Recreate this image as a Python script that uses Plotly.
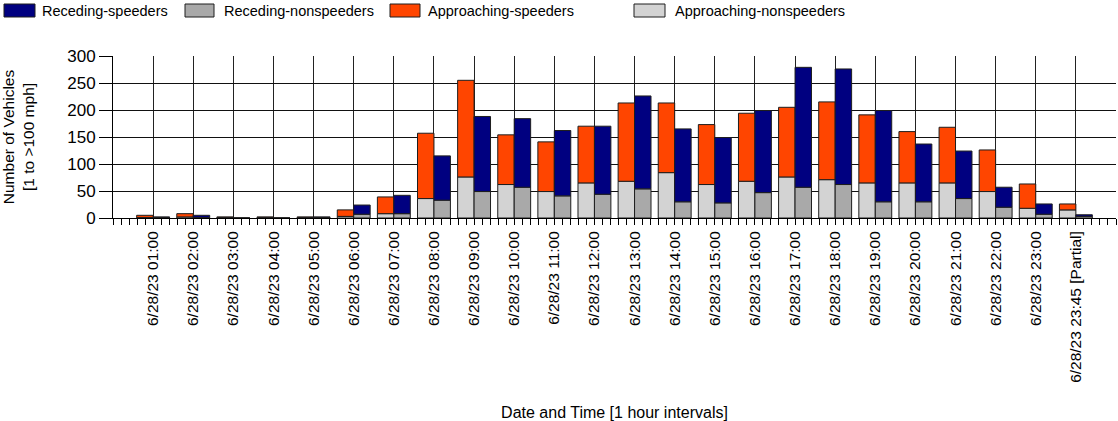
import plotly.graph_objects as go

labels = ["6/28/23 01:00", "6/28/23 02:00", "6/28/23 03:00", "6/28/23 04:00",
          "6/28/23 05:00", "6/28/23 06:00", "6/28/23 07:00", "6/28/23 08:00",
          "6/28/23 09:00", "6/28/23 10:00", "6/28/23 11:00", "6/28/23 12:00",
          "6/28/23 13:00", "6/28/23 14:00", "6/28/23 15:00", "6/28/23 16:00",
          "6/28/23 17:00", "6/28/23 18:00", "6/28/23 19:00", "6/28/23 20:00",
          "6/28/23 21:00", "6/28/23 22:00", "6/28/23 23:00", "6/28/23 23:45 [Partial]"]

approaching_nonspeeders = [1, 2, 1, 1, 1, 3, 8, 36, 76, 62, 49, 65, 68, 84, 62, 68, 76, 71, 65, 65, 65, 49, 18, 15]
approaching_speeders = [4, 6, 1, 1, 1, 12, 31, 121, 179, 92, 92, 105, 145, 129, 111, 126, 129, 144, 126, 95, 103, 77, 45, 11]
receding_nonspeeders = [1, 1, 0, 0, 1, 7, 8, 33, 49, 57, 41, 44, 54, 30, 28, 47, 57, 62, 30, 30, 36, 20, 7, 3]
receding_speeders = [1, 4, 0, 0, 1, 17, 34, 82, 139, 127, 121, 126, 172, 135, 121, 152, 222, 214, 169, 107, 88, 37, 19, 3]

W, H = 1118, 421
ML, MR, MT, MB = 113, 2, 56, 421 - 218
FONT = "Liberation Sans, Arial, sans-serif"

pos = list(range(1, len(labels) + 1))
bw = 0.41
outline = dict(color="#1e1e1e", width=1)

fig = go.Figure()
fig.add_bar(x=pos, y=approaching_nonspeeders, width=bw, offset=-bw,
            marker=dict(color="#D3D3D3", line=outline), name="Approaching-nonspeeders")
fig.add_bar(x=pos, y=approaching_speeders, base=approaching_nonspeeders, width=bw, offset=-bw,
            marker=dict(color="#FF4500", line=outline), name="Approaching-speeders")
fig.add_bar(x=pos, y=receding_nonspeeders, width=bw, offset=0,
            marker=dict(color="#A9A9A9", line=outline), name="Receding-nonspeeders")
fig.add_bar(x=pos, y=receding_speeders, base=receding_nonspeeders, width=bw, offset=0,
            marker=dict(color="#000080", line=outline), name="Receding-speeders")


def pxx(p):
    # page pixel -> paper x
    return (p - ML) / (W - ML - MR)


def pxy(p):
    # page pixel -> paper y
    return (H - MB - p) / (H - MT - MB)


legend_items = [("Receding-speeders", "#000080", 4, 35, 40),
                ("Receding-nonspeeders", "#A9A9A9", 185, 214, 222),
                ("Approaching-speeders", "#FF4500", 390, 420, 426),
                ("Approaching-nonspeeders", "#D3D3D3", 634, 665, 673)]
for name, col, x0, x1, tx in legend_items:
    fig.add_shape(type="rect", xref="paper", yref="paper",
                  x0=pxx(x0), x1=pxx(x1), y0=pxy(17), y1=pxy(4),
                  fillcolor=col, line=dict(color="#1e1e1e", width=1))
    fig.add_annotation(xref="paper", yref="paper", x=pxx(tx), y=pxy(11),
                       xanchor="left", yanchor="middle", text=name, showarrow=False,
                       font=dict(family=FONT, size=14.5, color="#000"))

fig.update_layout(
    width=W, height=H, barmode="overlay", showlegend=False,
    margin=dict(l=ML, r=MR, t=MT, b=MB, autoexpand=False),
    paper_bgcolor="white", plot_bgcolor="white",
    font=dict(family=FONT, color="#000"),
)
fig.update_xaxes(
    range=[0, 25], tickmode="array", tickvals=pos, ticktext=labels, tickangle=-90,
    ticks="outside", ticklen=6, tickcolor="#000", tickwidth=1,
    showgrid=True, gridcolor="#222", gridwidth=1,
    showline=True, linecolor="#000", linewidth=1, zeroline=False,
    minor=dict(tick0=0, dtick=0.2, ticks="outside", ticklen=6, tickcolor="#000", showgrid=False),
    tickfont=dict(family=FONT, size=15.5, color="#000"),
    title=dict(text="Date and Time [1 hour intervals]", font=dict(family=FONT, size=16, color="#000"), standoff=28),
    automargin=False,
)
fig.update_yaxes(
    range=[0, 300], tick0=0, dtick=50,
    ticks="outside", ticklen=13, tickcolor="#000",
    showgrid=True, gridcolor="#111", gridwidth=1,
    showline=True, linecolor="#000", linewidth=1, zeroline=False,
    tickfont=dict(family=FONT, size=17, color="#000"),
    title=dict(text="Number of Vehicles<br>[1 to >100 mph]", font=dict(family=FONT, size=15.5, color="#000"), standoff=32),
    automargin=False,
)

# remove the browser's default 8px body margin so the figure fills the window exactly
fig.write_html("out.html", config={"displayModeBar": False},
               post_script="document.body.style.margin='0';document.body.style.overflow='hidden';")
